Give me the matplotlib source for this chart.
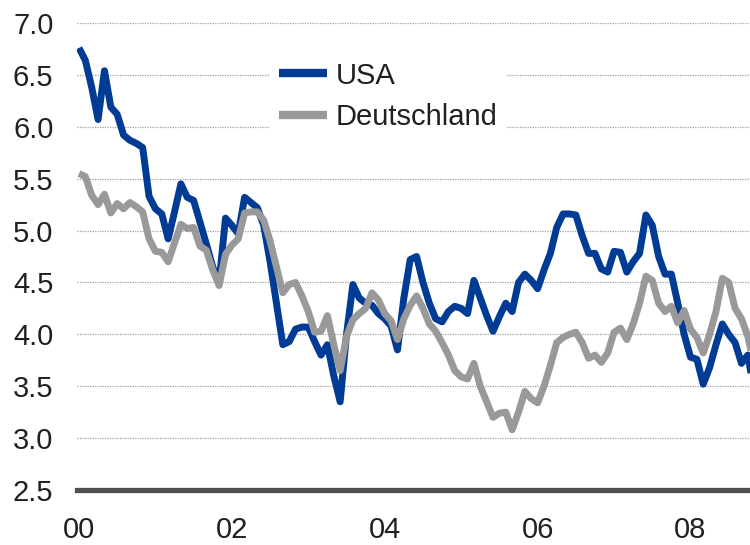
import matplotlib
matplotlib.use("Agg")
import matplotlib.pyplot as plt
import numpy as np

plt.rcParams['font.family'] = ['Liberation Sans', 'DejaVu Sans']

# Monthly values, Jan 2000 onwards
usa = [6.76, 6.64, 6.38, 6.07, 6.54, 6.19, 6.12, 5.92, 5.87, 5.84, 5.80, 5.33,
       5.21, 5.16, 4.92, 5.18, 5.45, 5.32, 5.29, 5.08, 4.87, 4.65, 4.50, 5.12,
       5.05, 4.97, 5.32, 5.27, 5.22, 5.05, 4.70, 4.30, 3.90, 3.93, 4.05, 4.07,
       4.07, 3.93, 3.80, 3.90, 3.60, 3.35, 4.00, 4.48, 4.35, 4.30, 4.28, 4.20,
       4.15, 4.08, 3.85, 4.35, 4.72, 4.75, 4.50, 4.30, 4.15, 4.12, 4.22, 4.27,
       4.25, 4.20, 4.52, 4.35, 4.18, 4.03, 4.17, 4.30, 4.22, 4.50, 4.58, 4.52,
       4.44, 4.62, 4.78, 5.03, 5.16, 5.16, 5.15, 4.95, 4.78, 4.78, 4.63, 4.60,
       4.80, 4.79, 4.60, 4.70, 4.78, 5.15, 5.05, 4.75, 4.58, 4.58, 4.30, 4.00,
       3.78, 3.76, 3.52, 3.68, 3.90, 4.10, 4.00, 3.92, 3.72, 3.80, 3.45]
deutschland = [5.55, 5.52, 5.34, 5.25, 5.35, 5.17, 5.26, 5.21, 5.27, 5.23, 5.18, 4.92,
               4.80, 4.79, 4.70, 4.88, 5.06, 5.02, 5.03, 4.85, 4.81, 4.62, 4.47, 4.77,
               4.86, 4.92, 5.17, 5.18, 5.18, 5.10, 4.90, 4.65, 4.40, 4.48, 4.50, 4.37,
               4.22, 4.02, 4.03, 4.18, 3.90, 3.65, 3.98, 4.14, 4.20, 4.25, 4.40, 4.33,
               4.20, 4.13, 3.95, 4.15, 4.28, 4.37, 4.25, 4.10, 4.03, 3.92, 3.80, 3.65,
               3.59, 3.57, 3.72, 3.50, 3.35, 3.20, 3.24, 3.25, 3.08, 3.25, 3.45, 3.38,
               3.34, 3.50, 3.70, 3.92, 3.97, 4.00, 4.02, 3.92, 3.77, 3.80, 3.73, 3.82,
               4.02, 4.06, 3.95, 4.10, 4.30, 4.56, 4.52, 4.30, 4.22, 4.27, 4.11, 4.23,
               4.05, 3.97, 3.82, 4.00, 4.22, 4.54, 4.50, 4.25, 4.15, 3.98, 3.70]
series_labels = ["USA", "Deutschland"]
tick_labels = ["00", "02", "04", "06", "08"]
y_ticks = [2.5, 3.0, 3.5, 4.0, 4.5, 5.0, 5.5, 6.0, 6.5, 7.0]

months = np.arange(len(usa))

fig = plt.figure(figsize=(7.5, 5.45), dpi=100)
ax = fig.add_axes([77/750, 1 - 490/545, 673/750, 467/545])

blue = '#003b95'
grey = '#999999'
text_c = '#231f20'

ax.plot(months, usa, color=blue, lw=5, solid_joinstyle='round', solid_capstyle='butt',
        label=series_labels[0], zorder=3, clip_on=True)
ax.plot(months, deutschland, color=grey, lw=5, solid_joinstyle='round', solid_capstyle='butt',
        label=series_labels[1], zorder=4, clip_on=True)

ax.set_ylim(2.5, 7.0)
ax.set_xlim(-0.31, 105.34)
ax.set_yticks(y_ticks)
ax.set_yticklabels([f"{v:.1f}" for v in y_ticks])
ax.set_xticks([12 * 2 * i for i in range(len(tick_labels))])
ax.set_xticklabels(tick_labels)

for v in y_ticks[1:]:
    ax.axhline(v, color='#a0a0a0', lw=0.9, ls=(0, (1, 1)), zorder=1)
ax.axhline(2.5, color='#505050', lw=3.8, zorder=5, clip_on=False)

for s in ax.spines.values():
    s.set_visible(False)
ax.tick_params(axis='both', length=0, labelsize=21, colors=text_c)
ax.tick_params(axis='y', pad=17)
ax.tick_params(axis='x', pad=19)

leg = ax.legend(loc='upper left', bbox_to_anchor=(0.2868, 0.936), frameon=True,
                fontsize=21, handlelength=1.64, handletextpad=0.31,
                labelspacing=0.46, borderpad=0.3, borderaxespad=0)
leg.get_frame().set_facecolor('white')
leg.get_frame().set_edgecolor('none')
leg.get_frame().set_alpha(1)
leg.get_frame().set_boxstyle('square', pad=0)
for t in leg.get_texts():
    t.set_color(text_c)
for h in leg.legend_handles:
    h.set_linewidth(6)

fig.savefig('out.png', dpi=100)
